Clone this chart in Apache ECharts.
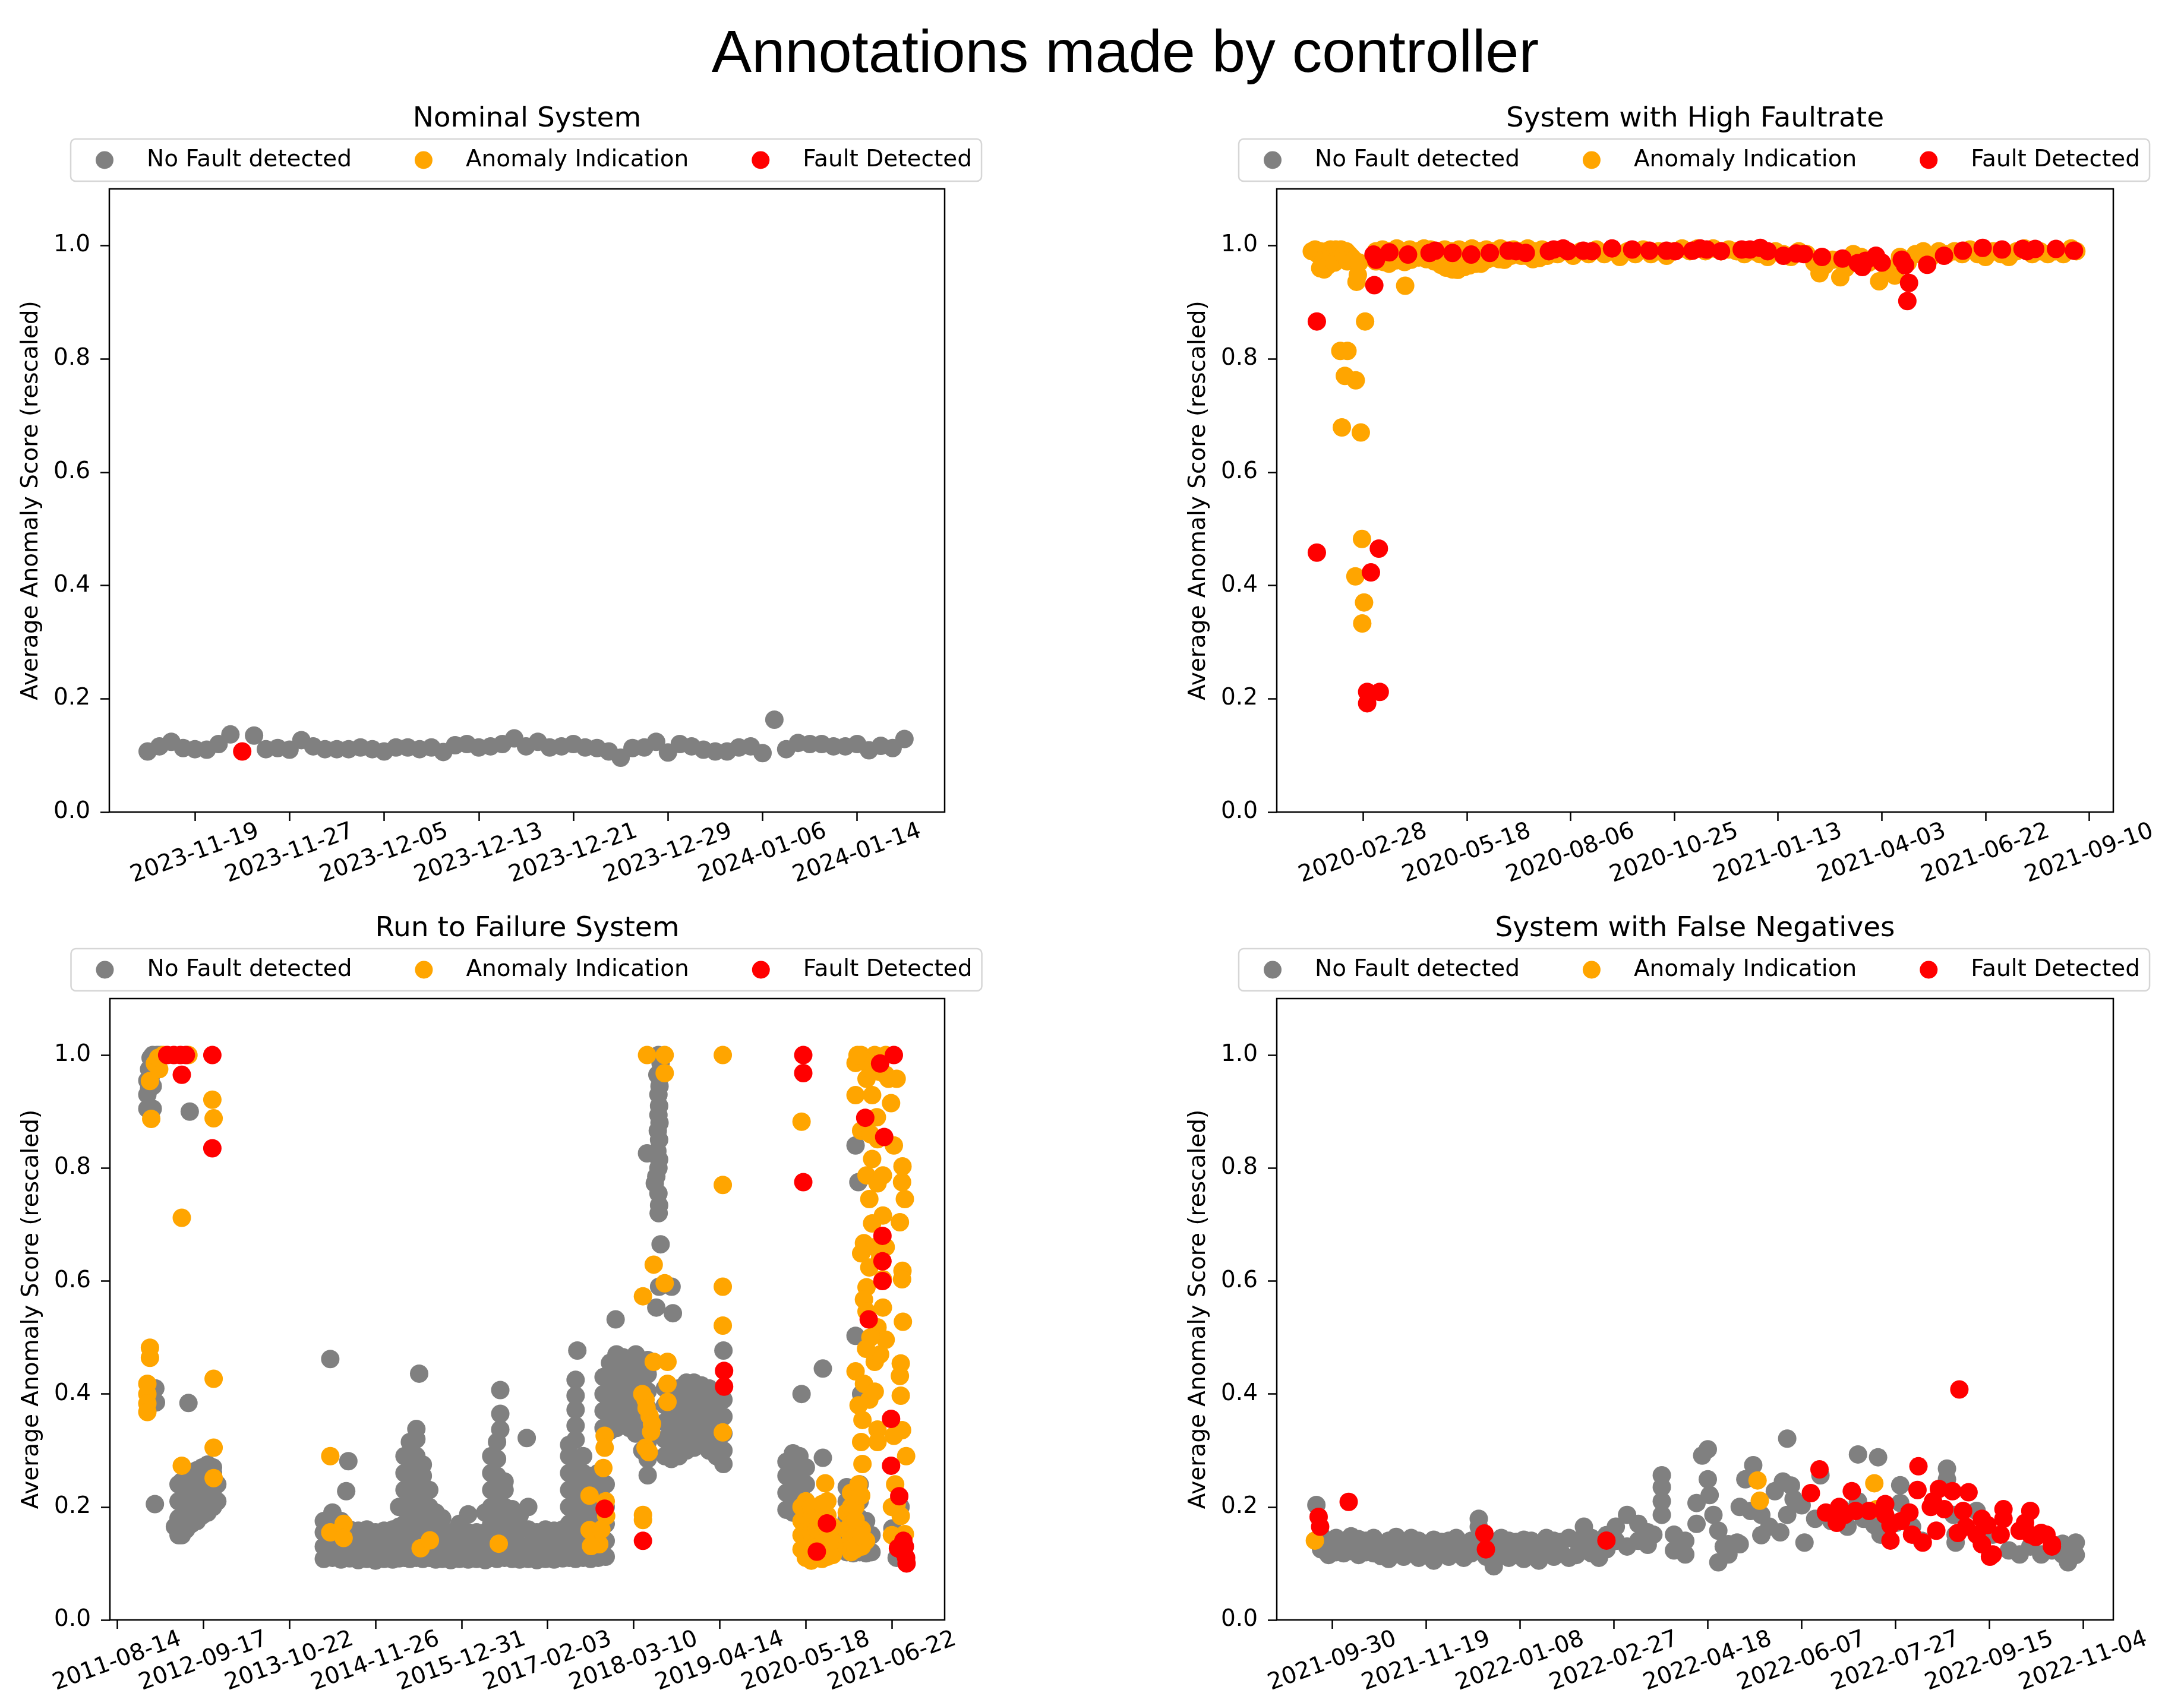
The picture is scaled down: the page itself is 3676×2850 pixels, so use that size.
<!DOCTYPE html>
<html>
<head>
<meta charset="utf-8">
<script src="https://cdn.jsdelivr.net/npm/echarts@6/dist/echarts.min.js"></script>
<style>
  html, body { margin: 0; padding: 0; background: #fff; }
  #chart { width: 3676px; height: 2850px; }
</style>
</head>
<body>
<div id="chart"></div>
<script>
// ---- data (x = days after the first tick label of each panel) ----
const seriesNames = ['No Fault detected', 'Anomaly Indication', 'Fault Detected'];
const yTicks = [0, 0.2, 0.4, 0.6, 0.8, 1.0];

// Nominal System: one score per day from 2023-11-15
const nominalTicks = ['2023-11-19', '2023-11-27', '2023-12-05', '2023-12-13', '2023-12-21', '2023-12-29', '2024-01-06', '2024-01-14'];
const nominalFirstDay = -4;
const nominalScores = [0.107, 0.116, 0.124, 0.113, 0.111, 0.110, 0.120, 0.137, 0.107, 0.135,
  0.111, 0.113, 0.110, 0.127, 0.116, 0.111, 0.111, 0.111, 0.114, 0.111,
  0.107, 0.114, 0.114, 0.111, 0.114, 0.106, 0.118, 0.120, 0.114, 0.116,
  0.120, 0.130, 0.116, 0.124, 0.114, 0.116, 0.120, 0.114, 0.113, 0.107,
  0.096, 0.113, 0.114, 0.124, 0.105, 0.120, 0.116, 0.110, 0.107, 0.107,
  0.114, 0.116, 0.104, 0.163, 0.111, 0.122, 0.120, 0.120, 0.116, 0.116,
  0.120, 0.109, 0.117, 0.113, 0.129];
const nominalFaultIdx = [8];

// System with High Faultrate
const highTicks = ['2020-02-28', '2020-05-18', '2020-08-06', '2020-10-25', '2021-01-13', '2021-04-03', '2021-06-22', '2021-09-10'];
const highOrange = [
  [-39.5, 0.99], [-37, 0.993], [-35, 0.985], [-33, 0.99], [-33, 0.96], [-31, 0.97], [-30, 0.958], [-29, 0.962], [-28, 0.99], [-27, 0.965],
  [-25, 0.993], [-23, 0.99], [-22, 0.97], [-21, 0.993], [-19, 0.99], [-17, 0.993], [-15, 0.985], [-13, 0.99], [-12, 0.972], [-11, 0.985],
  [-9, 0.98], [-7, 0.975], [-5, 0.936], [-4, 0.948], [-3, 0.97],
  [1.6, 0.866], [-17.5, 0.814], [-12, 0.814], [-14, 0.77], [-5.6, 0.762], [-16.3, 0.679], [-1.7, 0.67], [-0.8, 0.482], [-5.9, 0.416],
  [0.8, 0.37], [-0.6, 0.333], [32.5, 0.929],
  [10, 0.99], [15, 0.993], [20, 0.99], [26, 0.995], [31, 0.99], [36, 0.993], [42, 0.99], [47, 0.995], [52, 0.993], [58, 0.99],
  [63, 0.993], [68, 0.99], [74, 0.993], [79, 0.99], [84, 0.995], [90, 0.99], [95, 0.993], [100, 0.99], [106, 0.995], [111, 0.99],
  [116, 0.993], [122, 0.99], [127, 0.995], [132, 0.99], [138, 0.993], [143, 0.99],
  [10, 0.972], [16, 0.971], [20, 0.968], [26, 0.974], [32, 0.971], [37, 0.975], [43, 0.979], [49, 0.976], [55, 0.972], [60, 0.966],
  [64, 0.961], [69, 0.958], [73, 0.957], [78, 0.962], [82, 0.965], [87, 0.968], [91, 0.968], [96, 0.976], [100, 0.979], [105, 0.976],
  [109, 0.975], [114, 0.982], [118, 0.986], [122, 0.982], [126, 0.982], [131, 0.976], [136, 0.978], [142, 0.982], [147, 0.99],
  [150, 0.985], [156, 0.99], [162, 0.982], [168, 0.99], [174, 0.985], [180, 0.993], [186, 0.985], [192, 0.99], [198, 0.98], [204, 0.99],
  [210, 0.985], [216, 0.993], [222, 0.985], [228, 0.99], [234, 0.982], [240, 0.99], [246, 0.995], [252, 0.99], [258, 0.995], [264, 0.99],
  [270, 0.995], [276, 0.99], [282, 0.993], [288, 0.99], [294, 0.985], [300, 0.99], [306, 0.985], [312, 0.98], [318, 0.99], [324, 0.985],
  [330, 0.98], [336, 0.99], [342, 0.985], [348, 0.97], [352, 0.951], [356, 0.965], [362, 0.975], [368, 0.944], [372, 0.96], [378, 0.985],
  [384, 0.98], [390, 0.97], [398, 0.937], [404, 0.96], [410, 0.947], [414, 0.98], [420, 0.97], [426, 0.985], [432, 0.99], [438, 0.98],
  [444, 0.99], [450, 0.985], [456, 0.99], [462, 0.985], [468, 0.993], [474, 0.985], [480, 0.98], [486, 0.99], [492, 0.985], [498, 0.98],
  [504, 0.99], [510, 0.995], [516, 0.985], [522, 0.99], [528, 0.985], [534, 0.99], [540, 0.985], [546, 0.995], [550, 0.99]
];
const highRed = [
  [-35.6, 0.866], [-35.6, 0.458], [12.2, 0.465], [6.1, 0.423], [3.2, 0.212], [12.9, 0.212], [3.2, 0.192], [8.7, 0.93],
  [8.1, 0.984], [10, 0.975], [20.3, 0.988], [34.7, 0.984], [51.3, 0.987], [55.7, 0.991], [69, 0.987], [83.4, 0.984], [97.8, 0.987],
  [112.2, 0.991], [118, 0.99], [125.5, 0.987], [143.3, 0.99], [147, 0.993], [154.3, 0.995], [158, 0.99], [169.8, 0.991], [176.5, 0.99],
  [192, 0.995], [207.5, 0.993], [220.8, 0.991], [234, 0.991], [240.7, 0.99], [254, 0.991], [260, 0.995], [265, 0.993], [276, 0.99],
  [292, 0.993], [298.4, 0.993], [306.3, 0.996], [312, 0.99], [324.2, 0.982], [334, 0.986], [340, 0.985], [353.9, 0.98], [369.7, 0.977],
  [381.4, 0.969], [385, 0.962], [387.5, 0.973], [395.5, 0.982], [400, 0.97], [415.4, 0.975], [418, 0.965], [421, 0.934], [419.7, 0.902],
  [435, 0.966], [448, 0.982], [462.5, 0.991], [477.8, 0.996], [492.7, 0.993], [508.5, 0.994], [512, 0.99], [518.3, 0.994], [534.3, 0.994],
  [548.2, 0.991]
];

// Run to Failure System (grey given as [day, [scores...]])
const rtfTicks = ['2011-08-14', '2012-09-17', '2013-10-22', '2014-11-26', '2015-12-31', '2017-02-03', '2018-03-10', '2019-04-14', '2020-05-18', '2021-06-22'];
const rtfGrey = [
  [140, [0.905, 0.93, 0.955]], [148, [0.94, 0.975]], [155, [0.995, 0.96]], [165, [1.0, 0.975, 0.945, 0.905]], [175, [0.99, 0.205]],
  [177, [0.41]], [180, [0.385]], [185, [1.0]], [200, [1.0]], [331, [0.384]], [337, [0.9]],
  [268, [0.165]], [285, [0.15, 0.18, 0.21, 0.24]], [300, [0.15, 0.18, 0.21, 0.245]], [320, [0.16, 0.19, 0.22, 0.25]],
  [345, [0.17, 0.2, 0.23, 0.26]], [370, [0.175, 0.205, 0.235, 0.265]], [395, [0.185, 0.215, 0.245, 0.27]],
  [420, [0.19, 0.22, 0.25, 0.275]], [445, [0.2, 0.23, 0.26, 0.27]], [465, [0.21, 0.24]],
  [960, [0.108, 0.13, 0.155, 0.175]], [990, [0.462]], [1000, [0.11, 0.135, 0.16, 0.19]], [1040, [0.107, 0.13, 0.155, 0.175]],
  [1064, [0.228]], [1074, [0.281]], [1080, [0.109, 0.132, 0.16]], [1120, [0.106, 0.13, 0.158]], [1160, [0.108, 0.133, 0.16]],
  [1200, [0.105, 0.128, 0.155]], [1240, [0.108, 0.132, 0.158]], [1280, [0.107, 0.13, 0.16]], [1310, [0.109, 0.135, 0.165, 0.2]],
  [1335, [0.11, 0.14, 0.17, 0.2, 0.23, 0.26, 0.29]], [1360, [0.108, 0.135, 0.165, 0.195, 0.225, 0.255, 0.285, 0.315]],
  [1390, [0.11, 0.14, 0.17, 0.2, 0.23, 0.26, 0.29, 0.32, 0.338]], [1403, [0.436]],
  [1420, [0.108, 0.135, 0.165, 0.195, 0.225, 0.255, 0.275]], [1450, [0.11, 0.14, 0.17, 0.2, 0.23]],
  [1480, [0.107, 0.135, 0.165, 0.19]], [1510, [0.108, 0.132, 0.158, 0.18]], [1550, [0.106, 0.13, 0.155]],
  [1590, [0.108, 0.132, 0.158, 0.17]], [1631, [0.107, 0.13, 0.155, 0.187]], [1670, [0.108, 0.133, 0.155]],
  [1710, [0.106, 0.13, 0.155, 0.19]], [1738, [0.11, 0.14, 0.17, 0.2, 0.23, 0.26, 0.29]],
  [1765, [0.108, 0.135, 0.165, 0.195, 0.225, 0.255, 0.285, 0.315]], [1780, [0.337, 0.365, 0.407]],
  [1800, [0.11, 0.14, 0.17, 0.2, 0.23, 0.245]], [1835, [0.108, 0.135, 0.165, 0.196]], [1870, [0.107, 0.132, 0.16, 0.185]],
  [1903, [0.322]], [1910, [0.108, 0.13, 0.16, 0.2]], [1950, [0.106, 0.13, 0.155]], [1990, [0.108, 0.132, 0.16]],
  [2030, [0.107, 0.13, 0.158]], [2070, [0.109, 0.135, 0.16]], [2100, [0.11, 0.14, 0.17, 0.2, 0.23, 0.26, 0.29, 0.31]],
  [2130, [0.108, 0.135, 0.165, 0.195, 0.225, 0.255, 0.285, 0.319, 0.344, 0.372, 0.397, 0.425]], [2138, [0.477]],
  [2165, [0.11, 0.14, 0.17, 0.2, 0.23, 0.26, 0.29]], [2200, [0.108, 0.135, 0.165, 0.195, 0.225, 0.255]],
  [2235, [0.11, 0.14, 0.17, 0.2, 0.23, 0.26]], [2270, [0.112, 0.14, 0.17, 0.2, 0.24]],
  [2260, [0.34, 0.37, 0.4, 0.43]], [2290, [0.335, 0.365, 0.395, 0.425, 0.455]], [2316, [0.532]],
  [2320, [0.34, 0.37, 0.4, 0.43, 0.46, 0.47]], [2350, [0.345, 0.375, 0.405, 0.435, 0.465]], [2380, [0.34, 0.37, 0.4, 0.43, 0.46]],
  [2410, [0.33, 0.36, 0.39, 0.42, 0.45, 0.47]], [2440, [0.3, 0.33, 0.36, 0.39, 0.42, 0.45]],
  [2465, [0.256, 0.285, 0.315, 0.345, 0.375, 0.405, 0.435, 0.46]],
  [2515, [1.0, 0.93, 0.894, 0.8, 0.755]], [2525, [0.985, 0.665]], [2510, [0.965, 0.83]], [2520, [0.945, 0.88]],
  [2518, [0.91, 0.85, 0.815, 0.734, 0.59]], [2512, [0.866]], [2462, [0.826]], [2505, [0.785, 0.553]], [2498, [0.773]],
  [2516, [0.72]], [2576, [0.59]], [2582, [0.543]],
  [2545, [0.29, 0.32, 0.35, 0.38, 0.41]], [2575, [0.285, 0.315, 0.345, 0.375, 0.405]], [2610, [0.29, 0.32, 0.35, 0.38, 0.41]],
  [2645, [0.3, 0.33, 0.36, 0.39, 0.42]], [2680, [0.305, 0.335, 0.365, 0.395, 0.42]], [2715, [0.31, 0.34, 0.37, 0.4, 0.415]],
  [2750, [0.3, 0.33, 0.36, 0.39, 0.41]], [2785, [0.29, 0.32, 0.35, 0.38, 0.4]], [2817, [0.276, 0.3, 0.33, 0.36, 0.39, 0.477]],
  [3110, [0.195, 0.225, 0.255, 0.28]], [3140, [0.19, 0.22, 0.25, 0.28, 0.295]], [3170, [0.2, 0.23, 0.26, 0.29]], [3180, [0.4]],
  [3200, [0.21, 0.24, 0.27]], [3279, [0.445, 0.287]], [3330, [0.148]],
  [3390, [0.12, 0.15, 0.18, 0.21, 0.235]], [3420, [0.118, 0.145, 0.175, 0.205, 0.23]], [3431, [0.84, 0.503]], [3444, [0.775]],
  [3450, [0.12, 0.15, 0.18, 0.21, 0.24]], [3457, [0.4]], [3480, [0.118, 0.145, 0.175]], [3505, [0.12, 0.15]],
  [3602, [0.162]], [3622, [0.11]], [3640, [0.2]]
];
const rtfOrange = [
  [152, 0.954], [158, 0.887], [195, 0.975], [175, 0.985], [190, 0.995], [214, 1.0], [331, 1.0], [442, 0.921], [448, 0.888], [300, 0.712],
  [152, 0.482], [152, 0.464], [140, 0.418], [140, 0.4], [140, 0.383], [140, 0.368], [448, 0.427], [448, 0.305], [448, 0.251], [300, 0.273],
  [990, 0.29], [990, 0.155], [1052, 0.17], [1052, 0.145], [1410, 0.127], [1453, 0.141], [1773, 0.135],
  [2265, 0.326], [2265, 0.305], [2259, 0.269], [2195, 0.22], [2272, 0.184], [2195, 0.159], [2240, 0.134], [2202, 0.131], [2270, 0.21], [2250, 0.16],
  [2462, 1.0], [2544, 1.0], [2544, 0.968], [2493, 0.629], [2544, 0.596], [2443, 0.573], [2493, 0.457], [2557, 0.457], [2557, 0.418],
  [2455, 0.39], [2557, 0.386], [2474, 0.361], [2481, 0.333], [2455, 0.305], [2443, 0.186], [2443, 0.177], [2440, 0.4], [2460, 0.375],
  [2485, 0.347], [2470, 0.297],
  [2814, 1.0], [2814, 0.77], [2814, 0.59], [2814, 0.521], [2814, 0.332], [3180, 0.882],
  [3180, 0.125], [3180, 0.15], [3180, 0.175], [3180, 0.2], [3200, 0.11], [3200, 0.135], [3200, 0.16], [3200, 0.185], [3200, 0.21],
  [3225, 0.105], [3225, 0.13], [3225, 0.155], [3225, 0.18], [3225, 0.2], [3250, 0.11], [3250, 0.135], [3250, 0.16], [3250, 0.185],
  [3275, 0.108], [3275, 0.13], [3275, 0.155], [3275, 0.18], [3275, 0.205], [3300, 0.112], [3300, 0.135], [3300, 0.16], [3300, 0.185],
  [3300, 0.21], [3325, 0.115], [3325, 0.14], [3325, 0.165], [3290, 0.242],
  [3390, 0.13], [3390, 0.16], [3390, 0.19], [3410, 0.12], [3410, 0.145], [3410, 0.17], [3410, 0.2], [3410, 0.225], [3430, 0.125],
  [3430, 0.15], [3430, 0.175], [3430, 0.2], [3445, 0.24], [3460, 0.13], [3460, 0.16], [3480, 0.14],
  [3457, 1.0], [3520, 1.0], [3571, 1.0], [3431, 0.986], [3482, 0.958], [3431, 0.929], [3508, 0.929], [3584, 0.958], [3482, 0.887],
  [3457, 0.866], [3533, 0.851], [3609, 0.84], [3508, 0.816], [3482, 0.787], [3533, 0.773], [3495, 0.745], [3558, 0.716], [3470, 0.667],
  [3520, 0.66], [3457, 0.649], [3495, 0.624], [3482, 0.589], [3470, 0.567], [3558, 0.553], [3533, 0.518], [3571, 0.496], [3520, 0.457],
  [3431, 0.44], [3470, 0.418], [3495, 0.39], [3463, 0.354], [3533, 0.337], [3457, 0.315], [3463, 0.276], [3457, 0.22], [3431, 0.177],
  [3457, 0.149], [3571, 0.965], [3622, 0.958], [3596, 0.915], [3558, 0.787], [3571, 0.66], [3482, 0.546], [3558, 0.603], [3508, 0.702],
  [3520, 0.404], [3545, 0.97], [3500, 0.975], [3470, 0.99], [3440, 1.0], [3500, 0.86], [3530, 0.89], [3545, 0.64], [3500, 0.5],
  [3545, 0.47], [3480, 0.48], [3445, 0.38],
  [3649, 0.803], [3647, 0.775], [3660, 0.745], [3637, 0.704], [3649, 0.618], [3647, 0.603], [3651, 0.528], [3641, 0.454], [3637, 0.432],
  [3641, 0.397], [3647, 0.336], [3666, 0.29], [3609, 0.326], [3615, 0.24], [3641, 0.184], [3660, 0.152], [3622, 0.205], [3533, 0.315],
  [3600, 0.2], [3640, 0.13], [3600, 0.15]
];
const rtfRed = [
  [232, 1.0], [263, 1.0], [294, 1.0], [319, 1.0], [300, 0.965], [442, 1.0], [442, 0.835],
  [2265, 0.197], [2443, 0.14], [2820, 0.441], [2820, 0.413],
  [3188, 1.0], [3188, 0.968], [3188, 0.775], [3251, 0.121], [3298, 0.171],
  [3609, 1.0], [3545, 0.985], [3476, 0.889], [3564, 0.855], [3556, 0.68], [3556, 0.635], [3556, 0.6], [3492, 0.532], [3596, 0.356],
  [3596, 0.273], [3634, 0.219], [3653, 0.14], [3655, 0.12], [3628, 0.127], [3666, 0.11], [3668, 0.1], [3660, 0.13]
];

// System with False Negatives
const fnTicks = ['2021-09-30', '2021-11-19', '2022-01-08', '2022-02-27', '2022-04-18', '2022-06-07', '2022-07-27', '2022-09-15', '2022-11-04'];
const fnGrey = [
  [-8.5, [0.2035]], [-6, [0.15, 0.125]], [-2, [0.14, 0.115]], [2, [0.145, 0.12]], [6, [0.14, 0.118]], [10, [0.148, 0.122]],
  [14, [0.143, 0.115]], [18, [0.14, 0.12]], [22, [0.145, 0.118]], [26, [0.135, 0.113]], [30, [0.14, 0.108]], [34, [0.147, 0.12]],
  [38, [0.138, 0.112]], [42, [0.145, 0.118]], [46, [0.14, 0.11]], [50, [0.135, 0.115]], [54, [0.142, 0.105]], [58, [0.138, 0.118]],
  [62, [0.14, 0.112]], [66, [0.145, 0.12]], [70, [0.135, 0.11]], [74, [0.14, 0.118]], [78, [0.179, 0.165, 0.13]], [82, [0.14, 0.112]],
  [86, [0.135, 0.095]], [90, [0.145, 0.118]], [94, [0.14, 0.11]], [98, [0.138, 0.115]], [102, [0.142, 0.108]], [106, [0.14, 0.12]],
  [110, [0.135, 0.105]], [114, [0.145, 0.118]], [118, [0.14, 0.112]], [122, [0.138, 0.118]], [126, [0.145, 0.11]], [130, [0.14, 0.115]],
  [134, [0.165, 0.13]], [138, [0.145, 0.118]], [142, [0.14, 0.11]], [146, [0.15, 0.125]],
  [151, [0.165, 0.14]], [157, [0.186, 0.13]], [163, [0.17, 0.14]], [168, [0.155, 0.133]], [171, [0.151]],
  [175.5, [0.256, 0.235, 0.21, 0.186]], [182, [0.151, 0.123]], [188, [0.116, 0.14]], [194, [0.207, 0.17]], [197, [0.291]],
  [200, [0.302, 0.249]], [201, [0.221]], [203, [0.186]], [205.6, [0.158, 0.102]], [208.5, [0.13]], [211, [0.116, 0.134]], [215.6, [0.137]],
  [217, [0.2, 0.134]], [220, [0.249]], [222.8, [0.193]], [224.2, [0.274]], [228.5, [0.186, 0.15]], [232.8, [0.165]], [235.7, [0.228]],
  [238.6, [0.155]], [240, [0.245]], [242.3, [0.321, 0.186]], [244.3, [0.238]], [245.7, [0.214]], [250, [0.203]], [251.5, [0.137]],
  [257.2, [0.179]], [260, [0.256]],
  [265.8, [0.175]], [271.5, [0.196]], [274.4, [0.165]], [280, [0.293, 0.21]], [283, [0.179]], [288.7, [0.168]], [290.7, [0.288]],
  [292, [0.151]], [300.2, [0.172]], [302.5, [0.2385, 0.207]], [308.8, [0.165]], [314, [0.14]], [327.4, [0.268, 0.249]], [330.9, [0.186]],
  [332, [0.151, 0.137]], [343.2, [0.193]], [351.8, [0.151]], [360.4, [0.123]], [366.1, [0.116]], [371.8, [0.13]], [377.6, [0.116]],
  [383.3, [0.123]], [389, [0.116, 0.135]], [391.9, [0.102]], [394.8, [0.123]], [396, [0.137, 0.115]]
];
const fnOrange = [[-9.3, 0.1405], [226.5, 0.247], [227.7, 0.211], [288.7, 0.242], [290, 0.196]];
const fnRed = [
  [-7.3, 0.1825], [-6.5, 0.165], [8.7, 0.209], [81, 0.153], [81.8, 0.125], [146, 0.1405], [259.5, 0.2665], [254.9, 0.2245], [334, 0.408],
  [276.7, 0.228], [270, 0.2], [262.9, 0.19], [268.7, 0.172], [273, 0.186], [278.7, 0.193], [285.9, 0.193], [294.5, 0.205], [294.5, 0.186],
  [297.3, 0.168], [297.3, 0.1405], [303, 0.175], [307.4, 0.19], [311.7, 0.23], [312.2, 0.272], [308.8, 0.151], [314.5, 0.137],
  [318.8, 0.2], [320, 0.21], [323.1, 0.232], [321.7, 0.158], [326, 0.196], [330.3, 0.228], [333.2, 0.154], [336, 0.193], [337.5, 0.165],
  [338.9, 0.226], [343.2, 0.151], [346, 0.134], [346, 0.179], [348.9, 0.168], [350.3, 0.112], [351.8, 0.116], [356, 0.151],
  [357.5, 0.196], [357.5, 0.179], [366.1, 0.158], [369, 0.172], [371.8, 0.193], [371.8, 0.151], [374.7, 0.147], [377.6, 0.154],
  [380.4, 0.151], [383.3, 0.13], [383.3, 0.134]
];

// ---- helpers ----
function dayNum(s) {
  const p = s.split('-').map(Number);
  return Date.UTC(p[0], p[1] - 1, p[2]) / 86400000;
}
function flat(cols) {
  const out = [];
  cols.forEach(c => c[1].forEach(v => out.push([c[0], v])));
  return out;
}

const nominalGrey = [], nominalRed = [];
nominalScores.forEach((v, i) => {
  const pt = [nominalFirstDay + i, v];
  if (nominalFaultIdx.indexOf(i) >= 0) nominalRed.push(pt); else nominalGrey.push(pt);
});

const font = 'DejaVu Sans';
const colors = ['#808080', '#ffa500', '#ff0000'];

const panels = [
  { title: 'Nominal System', ticks: nominalTicks, range: [-7.24, 63.4], data: [nominalGrey, [], nominalRed],
    grid: { left: 184, top: 318, width: 1406, height: 1049 } },
  { title: 'System with High Faultrate', ticks: highTicks, range: [-66.5, 578.5], data: [[], highOrange, highRed],
    grid: { left: 2149, top: 318, width: 1408, height: 1049 } },
  { title: 'Run to Failure System', ticks: rtfTicks, range: [-34, 3845], data: [flat(rtfGrey), rtfOrange, rtfRed],
    grid: { left: 185, top: 1681, width: 1405, height: 1046 } },
  { title: 'System with False Negatives', ticks: fnTicks, range: [-29.6, 416], data: [flat(fnGrey), fnOrange, fnRed],
    grid: { left: 2149, top: 1681, width: 1408, height: 1046 } }
];

const grids = [], xAxes = [], yAxes = [], legends = [], series = [];
const graphics = [{
  type: 'text', x: 1894, y: 93,
  style: { text: 'Annotations made by controller', fontSize: 101, fontFamily: 'Liberation Sans', fill: '#000', align: 'center', verticalAlign: 'middle' }
}];

panels.forEach((p, i) => {
  const g = p.grid;
  grids.push({ left: g.left, top: g.top, width: g.width, height: g.height, show: true,
    borderColor: '#000', borderWidth: 2.5, backgroundColor: 'transparent', containLabel: false, outerBoundsMode: 'none' });

  const ref = dayNum(p.ticks[0]);
  const tickVals = p.ticks.map(t => dayNum(t) - ref);
  const labelMap = {};
  p.ticks.forEach((t, k) => { labelMap[tickVals[k]] = t; });

  xAxes.push({
    type: 'value', gridIndex: i, min: p.range[0], max: p.range[1], position: 'bottom',
    axisLine: { show: false, onZero: false }, splitLine: { show: false },
    axisTick: { show: true, length: 15, lineStyle: { color: '#000', width: 2.5 }, customValues: tickVals },
    axisLabel: { customValues: tickVals, formatter: v => labelMap[Math.round(v)] || '',
      rotate: 20, align: 'center', verticalAlign: 'middle', margin: 70,
      fontSize: 39, fontFamily: font, color: '#000' }
  });
  yAxes.push({
    type: 'value', gridIndex: i, min: 0, max: 1.1, position: 'left',
    axisLine: { show: false, onZero: false }, splitLine: { show: false },
    axisTick: { show: true, length: 15, lineStyle: { color: '#000', width: 2.5 }, customValues: yTicks },
    axisLabel: { customValues: yTicks, formatter: v => v.toFixed(1), margin: 32, fontSize: 39, fontFamily: font, color: '#000' },
    name: 'Average Anomaly Score (rescaled)', nameLocation: 'middle', nameGap: 112,
    nameTextStyle: { fontSize: 39, fontFamily: font, color: '#000' }
  });

  legends.push({
    left: g.left + g.width / 2 - 768, top: g.top - 84,
    orient: 'horizontal', selectedMode: false, icon: 'circle',
    itemWidth: 30, itemHeight: 30, itemGap: 106,
    padding: [16, 16, 16, 42],
    borderColor: '#d6d6d6', borderWidth: 2.5, borderRadius: 8, backgroundColor: 'rgba(255,255,255,0.8)',
    textStyle: { fontSize: 39, fontFamily: font, color: '#000', padding: [0, 0, 0, 51] },
    data: seriesNames
  });

  graphics.push({
    type: 'text', x: g.left + g.width / 2, y: g.top - 117,
    style: { text: p.title, fontSize: 47, fontFamily: font, fill: '#000', align: 'center', verticalAlign: 'middle' }
  });

  seriesNames.forEach((name, k) => {
    series.push({
      type: 'scatter', name: name, xAxisIndex: i, yAxisIndex: i,
      data: p.data[k], symbol: 'circle', symbolSize: 31,
      itemStyle: { color: colors[k], opacity: 1, borderWidth: 0 },
      emphasis: { disabled: true }, silent: true, animation: false
    });
  });
});

const chart = echarts.init(document.getElementById('chart'), null, { renderer: 'canvas' });
chart.setOption({
  backgroundColor: '#fff',
  animation: false,
  grid: grids,
  xAxis: xAxes,
  yAxis: yAxes,
  legend: legends,
  series: series,
  graphic: graphics
});
</script>
</body>
</html>
